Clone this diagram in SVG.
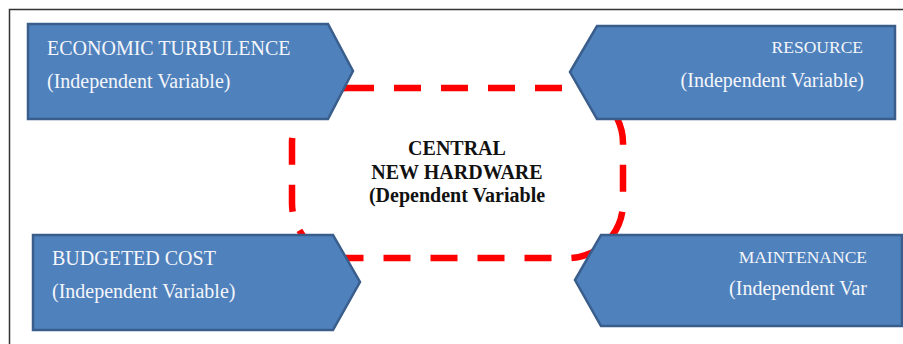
<svg xmlns="http://www.w3.org/2000/svg" width="903" height="344" viewBox="0 0 903 344">
<style>
.box{fill:#4f81bd;stroke:#3a5e8c;stroke-width:2.5;stroke-linejoin:miter}
.t{font-family:"Liberation Serif","Times New Roman",serif;fill:#f4f6fa;font-size:20px}
.s{font-size:17.5px}
.c{font-family:"Liberation Serif","Times New Roman",serif;fill:#111;font-size:20px;font-weight:bold;text-anchor:middle}
.dash{fill:none;stroke:#ff0000;stroke-width:6.5;stroke-dasharray:27 20}
</style>
<rect x="0" y="0" width="903" height="344" fill="#ffffff"/>
<rect x="9.5" y="9.5" width="900" height="340" fill="none" stroke="#333" stroke-width="1.5"/>
<g id="connectors">
<rect class="dash" x="292" y="88" width="331" height="170" rx="55" ry="55"/>
</g>
<g id="central">
<text class="c" x="457" y="155">CENTRAL</text>
<text class="c" x="457" y="179">NEW HARDWARE</text>
<text class="c" x="457" y="202">(Dependent Variable</text>
</g>
<g id="economic-turbulence">
<polygon class="box" points="28,24 328,24 353,71 328,119 28,119"/>
<text class="t" x="47" y="55">ECONOMIC TURBULENCE</text>
<text class="t" x="47" y="88">(Independent Variable)</text>
</g>
<g id="resource">
<polygon class="box" points="570,72 597,26 895,26 895,119 597,119"/>
<text class="t s" x="863" y="53" text-anchor="end">RESOURCE</text>
<text class="t" x="864" y="87" text-anchor="end">(Independent Variable)</text>
</g>
<g id="budgeted-cost">
<polygon class="box" points="33,235 333,235 360,282 333,330 33,330"/>
<text class="t" x="52" y="265">BUDGETED COST</text>
<text class="t" x="52" y="298">(Independent Variable)</text>
</g>
<g id="maintenance">
<polygon class="box" points="575,280 601,235 902,235 902,326 601,326"/>
<text class="t s" x="867" y="263" text-anchor="end">MAINTENANCE</text>
<text class="t" x="867" y="295" text-anchor="end">(Independent Var</text>
</g>
</svg>
